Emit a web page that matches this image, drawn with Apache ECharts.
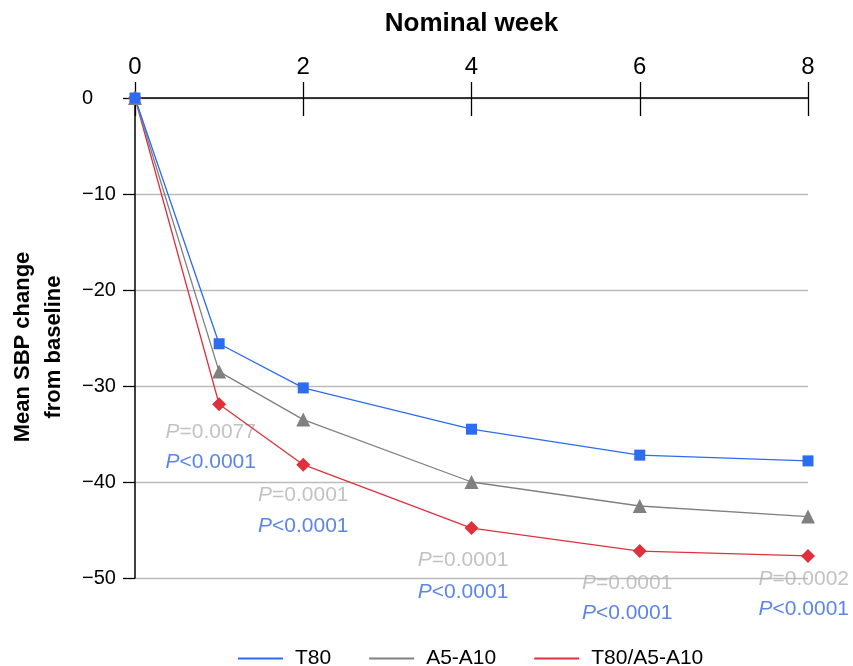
<!DOCTYPE html>
<html>
<head>
<meta charset="utf-8">
<script src="https://cdn.jsdelivr.net/npm/echarts@6/dist/echarts.min.js"></script>
</head>
<body style="margin:0">
<div id="chart" style="width:853px;height:666px;"></div>
<script>
var weeks = [0, 1, 2, 4, 6, 8];
var t80 = [0, -25.6, -30.2, -34.5, -37.2, -37.8];
var a5a10 = [0, -28.5, -33.5, -40.0, -42.5, -43.6];
var combo = [0, -31.9, -38.2, -44.8, -47.2, -47.7];

// p-value annotations: week, label y position, text
var pWeeks = [0.9, 2, 3.9, 5.85, 7.95];
var pGrayText = ['0.0077', '0.0001', '0.0001', '0.0001', '0.0002'];
var pGrayY = [-34.8, -41.4, -48.1, -50.5, -50.1];
var pBlueY = [-37.9, -44.6, -51.5, -53.7, -53.2];

var blue = '#2b6cf0', gray = '#808080', red = '#e0303e';
var font = 'Liberation Sans';

var myChart = echarts.init(document.getElementById('chart'));

var grayPts = [], bluePts = [];
for (var i = 0; i < pWeeks.length; i++) {
  grayPts.push({ value: [pWeeks[i], pGrayY[i]], txt: '=' + pGrayText[i] });
  bluePts.push({ value: [pWeeks[i], pBlueY[i]], txt: '<0.0001' });
}

function pSeries(pts, color) {
  return {
    type: 'scatter',
    data: pts,
    symbolSize: 0,
    clip: false,
    silent: true,
    z: 1,
    label: {
      show: true,
      position: 'inside',
      formatter: function (p) { return '{i|P}{n|' + p.data.txt + '}'; },
      rich: {
        i: { fontStyle: 'italic', color: color, fontSize: 21, fontFamily: font },
        n: { color: color, fontSize: 21, fontFamily: font }
      }
    }
  };
}

function lineSeries(name, data, color, symbol, size) {
  var d = [];
  for (var i = 0; i < weeks.length; i++) d.push([weeks[i], data[i]]);
  return {
    name: name,
    type: 'line',
    data: d,
    symbol: symbol,
    symbolSize: size,
    clip: false,
    lineStyle: { color: color, width: 1.3 },
    itemStyle: { color: color },
    z: 3
  };
}

var option = {
  animation: false,
  textStyle: { fontFamily: font },
  grid: { left: 135, right: 45, top: 98, bottom: 88, outerBoundsMode: 'none' },
  legend: {
    top: 643,
    left: 233,
    itemWidth: 45,
    itemHeight: 2,
    itemGap: 38,
    icon: 'rect',
    textStyle: { fontSize: 21, color: '#000', fontFamily: font, padding: [0, 0, 0, 7] },
    data: ['T80', 'A5-A10', 'T80/A5-A10']
  },
  xAxis: [{
    type: 'value',
    position: 'top',
    min: 0, max: 8, interval: 2,
    name: 'Nominal week',
    nameLocation: 'middle',
    nameGap: 61,
    nameTextStyle: { fontSize: 26, fontWeight: 'bold', color: '#000', fontFamily: font },
    axisLine: { show: true, lineStyle: { color: '#000', width: 1.5 } },
    axisTick: { show: true, length: 16, lineStyle: { color: '#000', width: 1.3 } },
    axisLabel: { fontSize: 24, color: '#000', margin: 19, fontFamily: font },
    splitLine: { show: false }
  }, {
    type: 'value',
    position: 'top',
    min: 0, max: 8, interval: 2,
    axisLine: { show: false },
    axisTick: { show: true, inside: true, length: 18, lineStyle: { color: '#000', width: 1.3 } },
    axisLabel: { show: false },
    splitLine: { show: false }
  }],
  yAxis: {
    type: 'value',
    min: -50, max: 0, interval: 10,
    name: 'Mean SBP change\nfrom baseline',
    nameLocation: 'middle',
    nameRotate: 90,
    nameGap: 66,
    nameTextStyle: {
      fontSize: 22, fontWeight: 'bold', color: '#000', lineHeight: 31, fontFamily: font,
      padding: [0, 18, 0, 0]
    },
    axisLine: { show: true, onZero: false, lineStyle: { color: '#000', width: 1.5 } },
    axisTick: { show: true, length: 12, lineStyle: { color: '#000', width: 1.3 } },
    axisLabel: {
      fontSize: 20, color: '#000', align: 'left', margin: 53, fontFamily: font,
      formatter: function (v) { return v < 0 ? '\u2212' + (-v) : String(v); }
    },
    splitLine: { show: true, lineStyle: { color: '#bbbbbb', width: 1.3 } }
  },
  series: [
    pSeries(grayPts, '#b3b3b3'),
    pSeries(bluePts, '#3366e6'),
    lineSeries('T80/A5-A10', combo, red, 'diamond', 14),
    lineSeries('A5-A10', a5a10, gray, 'triangle', 14),
    lineSeries('T80', t80, blue, 'rect', 11)
  ]
};
myChart.setOption(option);
</script>
</body>
</html>
